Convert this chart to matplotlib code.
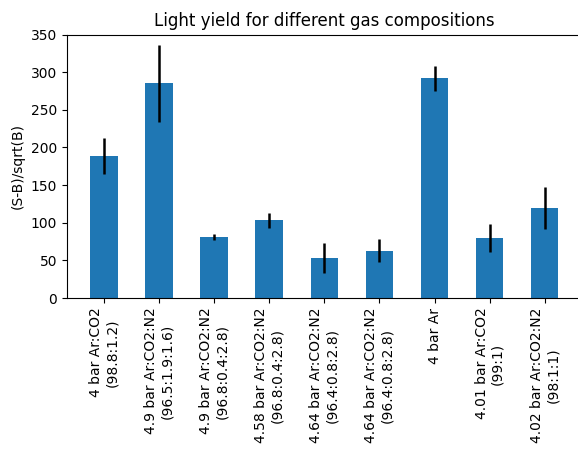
import numpy as np
import matplotlib
matplotlib.use('Agg')
import matplotlib.pyplot as plt

labels = ['4 bar Ar:CO2\n(98.8:1.2)',
          '4.9 bar Ar:CO2:N2\n(96.5:1.9:1.6)',
          '4.9 bar Ar:CO2:N2\n(96.8:0.4:2.8)',
          '4.58 bar Ar:CO2:N2\n(96.8:0.4:2.8)',
          '4.64 bar Ar:CO2:N2\n(96.4:0.8:2.8)',
          '4.64 bar Ar:CO2:N2\n(96.4:0.8:2.8)',
          '4 bar Ar',
          '4.01 bar Ar:CO2\n(99:1)',
          '4.02 bar Ar:CO2:N2\n(98:1:1)']
light_yield = [189, 285, 81, 103, 53, 63, 292, 80, 120]
yield_err = [24, 51, 4.5, 10, 20, 15.5, 16.5, 18.5, 28]

W, H = 578, 455
fig = plt.figure(figsize=(W / 100, H / 100), dpi=100)
# axes runs slightly past the right edge of the picture (cropped in the original)
ax = fig.add_axes([66.7 / W, 1 - 298 / H, 515.2 / W, (298 - 34.5) / H])

pos = np.arange(len(light_yield))
ax.bar(pos, light_yield, width=0.5, color='#1f77b4', yerr=yield_err,
       error_kw=dict(ecolor='black', elinewidth=1.8))
ax.set_xticks(pos)
ax.set_xticklabels(labels, rotation=90)
ax.set_xlim(-0.675, len(pos) - 1 + 0.675)
ax.set_ylim(0, 350)
ax.spines['right'].set_visible(False)
ax.set_ylabel('(S-B)/sqrt(B)')
ax.set_title('Light yield for different gas compositions')

fig.savefig('out.png', dpi=100)
